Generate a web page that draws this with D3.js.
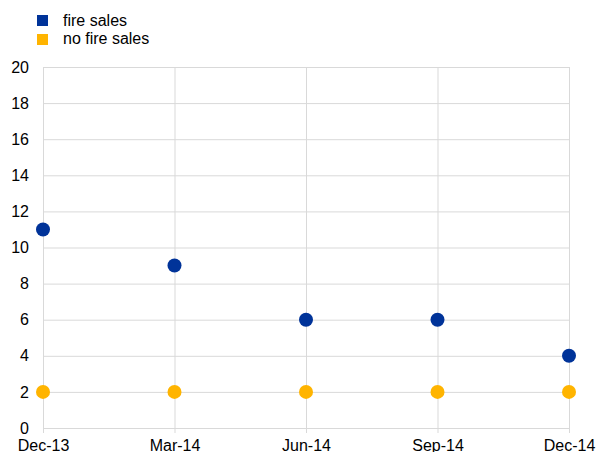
<!DOCTYPE html>
<html><head><meta charset="utf-8">
<script src="https://cdn.jsdelivr.net/npm/d3@7"></script>
<style>body{margin:0;background:#fff;}svg text{font-family:"Liberation Sans",Arial,sans-serif;}</style>
</head><body>
<svg id="c" width="596" height="452"></svg>
<script>
const categories = ["Dec-13","Mar-14","Jun-14","Sep-14","Dec-14"];
const fireSales = [11,9,6,6,4];
const noFireSales = [2,2,2,2,2];
const yTicks = [0,2,4,6,8,10,12,14,16,18,20];
const seriesNames = ["fire sales","no fire sales"];
const colors = ["#003399","#FFB400"];

const svg = d3.select("#c");
const L=43,R=569,T=67,B=428;
const x = d3.scalePoint().domain(categories).range([L,R]);
const y = d3.scaleLinear().domain([0,20]).range([B,T]);

// grid
svg.append("g").selectAll("line").data(yTicks).join("line")
  .attr("x1",L).attr("x2",R).attr("y1",d=>y(d)+0.5).attr("y2",d=>y(d)+0.5)
  .attr("stroke","#d9d9d9").attr("stroke-width",1);
svg.append("g").selectAll("line").data(categories).join("line")
  .attr("x1",d=>x(d)+0.5).attr("x2",d=>x(d)+0.5).attr("y1",T).attr("y2",B+5)
  .attr("stroke","#d9d9d9").attr("stroke-width",1);

// y axis labels
const ya = svg.append("g").attr("transform",`translate(${L},0)`)
  .call(d3.axisLeft(y).tickValues(yTicks).tickSize(0).tickPadding(14));
ya.select(".domain").remove();
ya.selectAll("text").attr("font-size",16).attr("fill","#000").style("font-family","Liberation Sans, Arial, sans-serif");

const xa = svg.append("g").attr("transform",`translate(0,${B})`)
  .call(d3.axisBottom(x).tickSize(0).tickPadding(12));
xa.select(".domain").remove();
xa.selectAll("text").attr("font-size",16).attr("fill","#000").style("font-family","Liberation Sans, Arial, sans-serif");

// points
const series=[fireSales,noFireSales];
series.forEach((s,i)=>{
  svg.append("g").selectAll("circle").data(s).join("circle")
    .attr("cx",(d,j)=>x(categories[j])).attr("cy",d=>y(d)).attr("r",7)
    .attr("fill",colors[i]);
});

// legend
const lg = svg.append("g");
seriesNames.forEach((n,i)=>{
  lg.append("rect").attr("x",37).attr("y",15+i*19).attr("width",11).attr("height",11).attr("fill",colors[i]);
  lg.append("text").attr("x",63).attr("y",25.5+i*18).attr("font-size",16).text(n);
});
</script>
</body></html>
